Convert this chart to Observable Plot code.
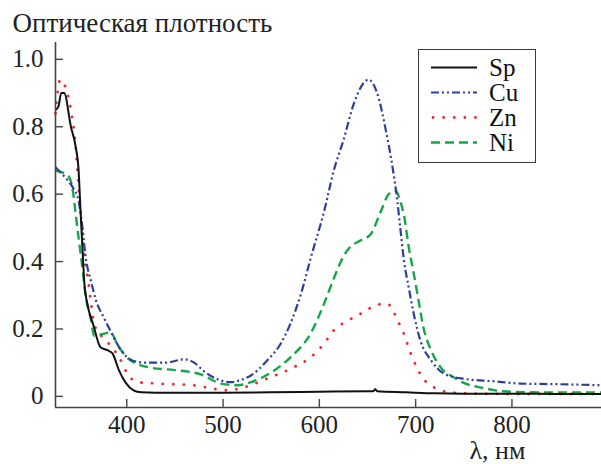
<!DOCTYPE html>
<html><head><meta charset="utf-8">
<script src="https://cdn.jsdelivr.net/npm/d3@7"></script>
<script src="https://cdn.jsdelivr.net/npm/@observablehq/plot@0.6"></script>
<style>
body{margin:0;background:#fff;}
#wrap{position:relative;width:601px;height:464px;overflow:hidden;}
#wrap svg text{font-family:"Liberation Serif","Times New Roman",Times,"DejaVu Serif",serif !important;}
#legend{position:absolute;left:418px;top:49px;width:116px;height:112px;border:1.5px solid #3a3a3a;background:#fff;font-family:"Liberation Serif","Times New Roman",Times,"DejaVu Serif",serif;}
.row{position:absolute;left:0;height:25px;display:flex;align-items:center;}
.row span{font-size:25px;color:#111;margin-left:12px;line-height:25px;}
</style></head><body><div id="wrap"></div>
<script>
// Data (wavelength in nm, optical density)
const seriesNames = ["Sp", "Cu", "Zn", "Ni"];
const seriesColors = ["#111111", "#2d3f9b", "#ee2b2b", "#16a64a"];
const seriesDash = ["none", "8,3,2,3,2,3", "0.1,10.5", "9,5"];
const seriesWidth = [2, 2.2, 2.8, 2.4];

const spNm = [326,329,332,335,342,347,350,352,354,356,359,365,373,380,385,392,399,407,415,430,460,500,550,600,650,656,658,660,690,720,760,800,850,893];
const spOD = [0.85,0.86,0.90,0.90,0.80,0.74,0.67,0.55,0.44,0.335,0.275,0.215,0.145,0.137,0.128,0.077,0.04,0.018,0.012,0.011,0.011,0.011,0.012,0.014,0.015,0.015,0.021,0.015,0.012,0.009,0.008,0.008,0.007,0.007];

const cuNm = [326,331,339,344,350,354,357,363,368,376,383,394,407,420,440,460,470,480,495,508,520,529,546,560,570,581,591,605,615,625,636,646,651,660,669,676,681,684,688,693,698,705,716,729,750,780,809,850,893];
const cuOD = [0.68,0.665,0.64,0.62,0.58,0.50,0.42,0.34,0.285,0.235,0.195,0.137,0.105,0.10,0.10,0.11,0.10,0.075,0.05,0.042,0.05,0.062,0.107,0.157,0.216,0.305,0.41,0.55,0.67,0.76,0.87,0.93,0.94,0.90,0.79,0.68,0.58,0.50,0.40,0.32,0.245,0.165,0.107,0.068,0.052,0.045,0.038,0.036,0.033];

const znNm = [326,331,336,342,347,350,352,355,360,363,366,375,385,396,400,405,413,432,470,482,505,522,546,573,591,605,615,630,646,660,669,675,681,685,695,707,719,736,760,800,893];
const znOD = [0.84,0.94,0.92,0.85,0.74,0.62,0.55,0.44,0.34,0.275,0.215,0.175,0.145,0.095,0.07,0.052,0.042,0.038,0.033,0.027,0.018,0.027,0.053,0.086,0.116,0.157,0.196,0.225,0.25,0.272,0.275,0.265,0.225,0.205,0.127,0.056,0.027,0.012,0.008,0.007,0.007];

const niNm = [326,339,344,347,350,354,357,363,366,375,383,391,404,425,450,477,498,515,529,550,570,591,605,615,625,631,643,653,664,672,679,684,688,693,698,703,708,716,726,740,750,770,791,830,893];
const niOD = [0.67,0.655,0.61,0.54,0.47,0.38,0.305,0.225,0.18,0.185,0.19,0.15,0.107,0.085,0.078,0.065,0.038,0.033,0.042,0.071,0.116,0.187,0.276,0.35,0.415,0.44,0.463,0.48,0.55,0.60,0.61,0.58,0.535,0.44,0.365,0.285,0.205,0.137,0.086,0.056,0.04,0.025,0.015,0.012,0.012];

const xTicks = [400, 500, 600, 700, 800];
const xTickLabels = ["400", "500", "600", "700", "800"];
const yTicks = [0, 0.2, 0.4, 0.6, 0.8, 1.0];
const yTickLabels = ["0", "0.2", "0.4", "0.6", "0.8", "1.0"];
const titleText = "Оптическая плотность";
const xLabelText = "λ, нм";

const xDomain = [326, 893];
const yDomain = [-0.033, 1.05];

const allNm = [spNm, cuNm, znNm, niNm];
const allOD = [spOD, cuOD, znOD, niOD];
const rows = [];
seriesNames.forEach((s, k) => allNm[k].forEach((x, i) => rows.push({series: s, x, y: allOD[k][i]})));

const font = "'Liberation Serif', 'Times New Roman', Times, 'DejaVu Serif', serif";
const axisColor = "#444";

const lineMarks = seriesNames.map((s, k) =>
  Plot.line(rows.filter(r => r.series === s), {
    x: "x", y: "y", curve: "monotone-x",
    stroke: seriesColors[k], strokeWidth: seriesWidth[k],
    strokeDasharray: seriesDash[k] === "none" ? null : seriesDash[k],
    strokeLinecap: k === 2 ? "round" : "butt"
  })
);

const chart = Plot.plot({
  width: 601, height: 464,
  marginLeft: 55, marginRight: 0, marginTop: 42, marginBottom: 57,
  style: {fontFamily: font, background: "#fff", color: "#222"},
  x: {domain: xDomain},
  y: {domain: yDomain},
  marks: [
    ...lineMarks.slice().reverse(),
    Plot.ruleX([xDomain[0]], {stroke: axisColor, strokeWidth: 1.6}),
    Plot.ruleY([yDomain[0]], {stroke: axisColor, strokeWidth: 1.6}),
    Plot.axisX(xTicks, {tickFormat: d => xTickLabels[xTicks.indexOf(d)], tickSize: -8, tickPadding: 16, fontSize: 25, stroke: axisColor, strokeWidth: 1.4, fill: "#222", label: null}),
    Plot.axisY(yTicks, {tickFormat: d => yTickLabels[yTicks.indexOf(d)], tickSize: -8, tickPadding: 20, fontSize: 25, stroke: axisColor, strokeWidth: 1.4, fill: "#222", label: null}),
    Plot.text([titleText], {frameAnchor: "top-left", lineAnchor: "middle", dx: -43, dy: -19, textAnchor: "start", fontSize: 27, fill: "#222"}),
    Plot.text([xLabelText], {frameAnchor: "bottom-left", lineAnchor: "middle", dx: 414, dy: 43, textAnchor: "start", fontSize: 26, fill: "#222"})
  ]
});

const wrap = document.getElementById("wrap");
wrap.appendChild(chart);

// Legend built from the series arrays
const legend = document.createElement("div");
legend.id = "legend";
seriesNames.forEach((s, k) => {
  const row = document.createElement("div");
  row.className = "row";
  row.style.top = (5 + k * 25) + "px";
  const svg = document.createElementNS("http://www.w3.org/2000/svg", "svg");
  svg.setAttribute("width", "58"); svg.setAttribute("height", "25");
  const ln = document.createElementNS("http://www.w3.org/2000/svg", "line");
  ln.setAttribute("x1", k === 2 ? "14" : "12"); ln.setAttribute("x2", "58");
  ln.setAttribute("y1", "12.5"); ln.setAttribute("y2", "12.5");
  ln.setAttribute("stroke", seriesColors[k]);
  ln.setAttribute("stroke-width", seriesWidth[k]);
  if (seriesDash[k] !== "none") ln.setAttribute("stroke-dasharray", seriesDash[k]);
  if (k === 2) ln.setAttribute("stroke-linecap", "round");
  svg.appendChild(ln);
  const lab = document.createElement("span");
  lab.textContent = s;
  row.appendChild(svg); row.appendChild(lab);
  legend.appendChild(row);
});
wrap.appendChild(legend);
</script></body></html>
